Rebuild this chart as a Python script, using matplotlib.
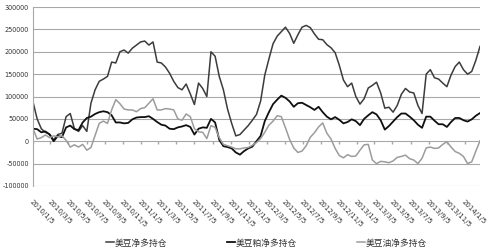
import matplotlib
matplotlib.use("Agg")
import matplotlib.pyplot as plt
import pandas as pd

#---------------------------
start_date = "2010-01-05"
n_points = 109

soy = [88, 50, 28, 20, 16, 3, 15, 18, 55, 62,
       28, 22, 35, 22, 85, 115, 134, 139, 145, 177,
       175, 200, 204, 197, 208, 215, 222, 224, 215, 222,
       177, 175, 166, 152, 134, 120, 115, 128, 106, 82,
       130, 118, 100, 200, 190, 145, 115, 72, 40, 12,
       15, 25, 35, 47, 60, 90, 148, 184, 218, 235,
       245, 255, 241, 219, 238, 255, 259, 254, 240, 228,
       227, 216, 209, 198, 170, 137, 122, 130, 100, 83,
       95, 119, 125, 132, 108, 74, 76, 65, 80, 105,
       118, 110, 108, 80, 62, 150, 160, 142, 139, 130,
       122, 148, 167, 177, 160, 150, 156, 181, 212]

meal = [28, 27, 20, 22, 15, 0, 12, 9, 31, 35,
        27, 25, 42, 52, 55, 61, 65, 67, 65, 58,
        42, 42, 40, 41, 49, 53, 54, 54, 56, 50,
        43, 37, 35, 28, 27, 31, 33, 36, 32, 15,
        28, 31, 30, 50, 42, 3, -11, -13, -16, -25,
        -30, -22, -16, -12, 0, 12, 45, 65, 83, 93,
        102, 97, 89, 77, 85, 86, 81, 76, 70, 77,
        65, 55, 49, 54, 48, 40, 43, 49, 45, 36,
        50, 58, 65, 60, 47, 26, 34, 44, 54, 62,
        62, 55, 47, 37, 30, 55, 55, 46, 38, 38,
        32, 43, 52, 52, 47, 44, 49, 57, 63]

oil = [28, 5, 8, 14, 8, 12, 10, 12, 2, -13,
       -8, -13, -7, -20, -14, 13, 40, 45, 40, 70,
       93, 84, 72, 70, 70, 66, 73, 75, 85, 95,
       70, 70, 73, 72, 70, 50, 47, 61, 55, 28,
       21, 20, 6, 35, 31, 8, -7, -10, -13, -17,
       -17, -15, -14, -9, -3, 6, 20, 36, 45, 57,
       55, 30, 4, -15, -25, -22, -10, 9, 19, 32,
       41, 18, 5, -16, -32, -37, -30, -34, -33, -20,
       -8, -7, -42, -50, -45, -46, -48, -44, -36, -34,
       -31, -39, -42, -50, -38, -15, -13, -16, -15, -7,
       -1, -13, -23, -27, -34, -50, -46, -22, 1]

labels = ["美豆净多持仓", "美豆粕净多持仓", "美豆油净多持仓"]
colors = ["#3c3c3c", "#101010", "#9c9c9c"]
widths = [1.1, 1.3, 1.1]

# Build the frame
#---------------------------
dates = pd.date_range(start_date, periods=n_points, freq="14D")
df = pd.DataFrame({labels[0]: soy, labels[1]: meal, labels[2]: oil}, index=dates) * 1000

tick_dates = pd.date_range("2010-01-01", "2014-01-01", freq="2MS") + pd.Timedelta(days=4)
tick_labels = ["{}/{}/{}".format(d.year, d.month, d.day) for d in tick_dates]

# Draw
#---------------------------
fig = plt.figure(figsize=(5, 2.52), dpi=100)
ax = fig.add_axes([0.066, 0.262, 0.894, 0.71])

for y in range(-100000, 300001, 50000):
    ax.axhline(y, color="#a8a8a8", lw=0.8, zorder=0)

handles = []
for name, c, w in zip(labels, colors, widths):
    h, = ax.plot(df.index, df[name], color=c, lw=w, label=name)
    handles.append(h)

# small tick marks on the zero line (Excel style)
ax.plot(tick_dates, [0] * len(tick_dates), linestyle="none", marker=3,
        markersize=2.5, color="#a8a8a8", zorder=1)

ax.set_xlim(df.index[0], df.index[-1])
ax.set_ylim(-100000, 300000)
ax.set_yticks(range(-100000, 300001, 50000))
ax.set_yticklabels([str(v) for v in range(-100000, 300001, 50000)])
ax.set_xticks(tick_dates)
ax.set_xticklabels(tick_labels, rotation=-45, ha="left", va="top",
                   rotation_mode="anchor")
ax.tick_params(axis="x", length=0, pad=9, labelsize=5, colors="#333333")
ax.tick_params(axis="y", length=0, pad=3, labelsize=4.7, colors="#333333")

for s in ["top", "right", "bottom"]:
    ax.spines[s].set_visible(False)
ax.spines["left"].set_color("#a8a8a8")
ax.spines["left"].set_linewidth(0.8)

leg = fig.legend(handles=handles, loc="center", bbox_to_anchor=(0.533, 0.036),
                 ncol=3, frameon=False, handlelength=0.9, handletextpad=0.15,
                 columnspacing=6.8,
                 prop={"family": ["Noto Sans CJK SC", "DejaVu Sans"], "size": 6.3})
for t in leg.get_texts():
    t.set_color("#333333")

fig.savefig("out.png", dpi=100)
